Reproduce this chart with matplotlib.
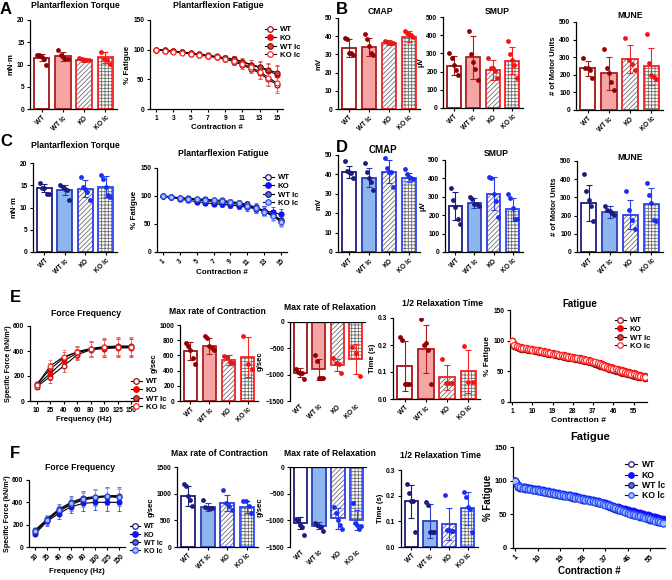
import numpy as np
import matplotlib
matplotlib.use("Agg")
import matplotlib.pyplot as plt
from matplotlib.lines import Line2D

W, H = 672, 580

plt.rcParams["font.family"] = ["Liberation Sans", "DejaVu Sans"]
plt.rcParams["font.weight"] = "bold"
plt.rcParams["axes.labelweight"] = "bold"
plt.rcParams["hatch.linewidth"] = 0.6

GROUPS = ["WT", "WT lc", "KO", "KO lc"]
LINE_LABELS = ["WT", "KO", "WT lc", "KO lc"]
CONTRACTIONS_15 = list(range(1, 16))
FREQ_HZ = [10, 25, 40, 60, 80, 100, 125, 150]

# ── A: plantarflexion (red) ──────────────────────────────────────────────────
A_TQ_MEAN = [11.5, 11.8, 11.0, 11.6]
A_TQ_SD = [0.8, 1.0, 0.4, 1.2]
A_TQ_PTS = [[12.2, 12.2, 11.6, 11.2, 9.8], [13.3, 12.2, 11.6, 11.2, 11.2],
            [11.4, 11.2, 11.0, 10.9, 11.1], [12.9, 11.3, 11.0, 10.2]]

A_FAT_WT = [100, 98.5, 97, 95.5, 93.5, 91.5, 89.5, 87.5, 84.5, 80, 74, 68, 60, 50, 41]
A_FAT_KO = [100, 98.8, 97.2, 95.8, 94, 92, 90, 88, 86, 83.5, 79, 74, 70, 64, 58]
A_FAT_WTLC = [100, 99, 97.5, 96, 94, 92.5, 90.5, 88.5, 86.5, 84, 80, 75, 71, 66, 61]
A_FAT_KOLC = [100, 98.5, 96.8, 95, 93, 91, 89, 87, 84, 81, 76, 70, 63, 53, 44]
A_FAT_SD = [0, 1, 1, 1.5, 1.5, 2, 2, 3, 4, 5, 6, 8, 10, 12, 14]

# ── B: electrophysiology (red) ───────────────────────────────────────────────
B_CMAP_MEAN = [33.3, 34.2, 36.5, 39.6]
B_CMAP_SD = [5.0, 5.0, 1.5, 3.0]
B_CMAP_PTS = [[39, 38.4, 31, 30.5, 29.6], [41, 38.4, 34.7, 30.5, 29.6],
              [37.5, 36.9, 36.5, 36, 36.2], [42.7, 42, 41, 40.5, 39.6]]

B_SMUP_MEAN = [232, 278, 211, 260]
B_SMUP_SD = [52, 116, 55, 75]
B_SMUP_PTS = [[302, 275, 234, 209, 181], [425, 299, 251, 214, 152],
              [275, 222, 218, 205, 165], [366, 298, 266, 236, 165]]

B_MUNE_MEAN = [236, 208, 292, 249]
B_MUNE_SD = [40, 95, 80, 105]
B_MUNE_PTS = [[298, 240, 236, 226, 179], [345, 238, 211, 160, 113],
              [409, 283, 260, 230], [430, 268, 198, 185, 174]]

# ── C: plantarflexion (blue) ─────────────────────────────────────────────────
C_TQ_MEAN = [14.4, 13.9, 14.2, 14.7]
C_TQ_SD = [0.9, 1.2, 1.9, 2.4]
C_TQ_PTS = [[15.5, 14.4, 14.4, 13.1, 13.1], [15.0, 14.6, 14.2, 14.0, 11.6],
            [16.9, 14.6, 14.2, 13.5, 11.6], [17.2, 16.5, 14.6, 12.7, 12.4]]

C_FAT_WT = [100, 98.5, 97, 96, 95, 94, 93, 92, 90, 88, 85, 80, 74, 66, 56]
C_FAT_KO = [100, 97.5, 94.5, 92, 90, 88, 86, 85, 84, 82, 80, 77, 74, 71, 67]
C_FAT_WTLC = [100, 98, 96, 94.5, 93, 91.5, 90, 88.5, 87, 85, 82, 78, 73, 66, 58]
C_FAT_KOLC = [100, 98, 96.5, 95, 94, 93, 92, 91, 89, 87, 83, 78, 72, 64, 54]
C_FAT_SD = [0, 1, 2, 3, 3, 3, 4, 4, 5, 5, 6, 7, 8, 9, 10]

# ── D: electrophysiology (blue) ──────────────────────────────────────────────
D_CMAP_MEAN = [41.4, 38.4, 41.4, 38.4]
D_CMAP_SD = [3.0, 5.0, 6.0, 2.5]
D_CMAP_PTS = [[46.9, 41.7, 41.4, 40.9, 38.3], [45.7, 41, 38.3, 35.9, 32.2],
              [48.3, 43.1, 41.4, 41, 33.6], [42.8, 40, 38.8, 38, 37.6]]

D_SMUP_MEAN = [250, 265, 317, 232]
D_SMUP_SD = [78, 28, 90, 62]
D_SMUP_PTS = [[350, 281, 245, 177, 153], [301, 290, 259, 259, 250],
              [405, 400, 314, 277, 190], [314, 296, 237, 181, 181]]

D_MUNE_MEAN = [268, 220, 206, 261]
D_MUNE_SD = [100, 32, 80, 90]
D_MUNE_PTS = [[429, 336, 286, 255, 172], [255, 232, 223, 214, 205],
              [336, 232, 177, 126], [378, 314, 268, 177, 172]]

# ── E: isolated muscle (red) ─────────────────────────────────────────────────
E_FF_WT = [115, 195, 280, 370, 410, 420, 425, 425]
E_FF_KO = [125, 220, 320, 385, 415, 425, 430, 430]
E_FF_WTLC = [135, 255, 345, 395, 420, 435, 440, 440]
E_FF_KOLC = [130, 280, 355, 390, 415, 430, 435, 435]
E_FF_SD = [20, 50, 50, 45, 60, 70, 70, 70]

E_CON_MEAN = [658, 724, 539, 583]
E_CON_SD = [114, 109, 66, 263]
E_CON_PTS = [[759, 724, 671, 570, 482], [855, 833, 728, 702, 671],
             [596, 583, 509, 496], [855, 482, 421]]

E_REL_MEAN = [-960, -900, -815, -700]
E_REL_SD = [80, 200, 110, 280]
E_REL_PTS = [[-890, -940, -960, -970, -1090], [-620, -740, -1060, -1060, -1065],
             [-680, -780, -800, -960], [-480, -580, -1020]]

E_HALF_MEAN = [0.121, 0.186, 0.080, 0.102]
E_HALF_SD = [0.093, 0.088, 0.045, 0.078]
E_HALF_PTS = [[0.228, 0.220, 0.055, 0.055, 0.057], [0.296, 0.201, 0.207, 0.183, 0.055],
              [0.149, 0.060, 0.060, 0.060], [0.195, 0.063, 0.063]]

E_FAT_WT = [100, 93, 90, 89, 88, 87.5, 87, 86, 85.5, 85,
            84, 83.5, 83, 82, 81.5, 80.5, 80, 79, 78.5, 77.5,
            77, 76, 75.5, 75, 74, 73.5, 73, 72, 71.5, 71,
            70, 69.5, 68.5, 68, 67, 66, 65, 64, 62.5, 61,
            59.5, 58, 57, 55.5, 54.5, 53, 52, 51, 50, 49,
            48, 47, 46, 45, 44, 43, 42, 41, 40, 39]
E_FAT_KO = [100, 94, 91, 90, 89, 88.5, 88, 87, 86.5, 86,
            85, 84.5, 84, 83, 82.5, 81.5, 81, 80, 79.5, 78.5,
            78, 77, 76.5, 76, 75, 74.5, 74, 73, 72.5, 72,
            71, 70.5, 70, 69, 68, 67, 66, 65, 64, 63,
            61.5, 60, 59, 57.5, 56.5, 55.5, 54.5, 53.5, 52.5, 51.5,
            50.5, 49.5, 48.5, 47.5, 46.5, 45.5, 44.5, 43.5, 42.5, 42]
E_FAT_WTLC = [100, 92, 89, 88, 87, 86.5, 86, 85, 84.5, 84,
              83, 82.5, 82, 81, 80.5, 79.5, 79, 78, 77.5, 76.5,
              76, 75, 74.5, 74, 73, 72.5, 72, 71, 70.5, 70,
              69, 68.5, 67.5, 67, 66, 65, 64, 62.5, 61, 59.5,
              58, 56.5, 55, 54, 53, 52, 51, 50, 49, 48,
              47, 46, 45, 44, 43, 42, 41, 40.5, 40, 39.5]
E_FAT_KOLC = [100, 93, 90.5, 89.5, 88.5, 88, 87.5, 86.5, 86, 85.5,
              84.5, 84, 83.5, 82.5, 82, 81, 80.5, 79.5, 79, 78,
              77.5, 76.5, 76, 75.5, 74.5, 74, 73.5, 72.5, 72, 71.5,
              70.5, 70, 69, 68.5, 67.5, 66.5, 65.5, 64.5, 63, 61.5,
              60, 58.5, 57.5, 56, 55, 54, 53, 52, 51, 50,
              49, 48, 47, 46, 45, 44, 43, 42, 41, 40]
E_FAT_SD = 4

# ── F: isolated muscle (blue) ────────────────────────────────────────────────
F_FF_WT = [150, 250, 340, 400, 440, 450, 460, 460]
F_FF_KO = [115, 230, 300, 360, 390, 400, 400, 400]
F_FF_WTLC = [130, 240, 320, 380, 420, 440, 450, 445]
F_FF_KOLC = [140, 245, 330, 390, 430, 445, 455, 450]
F_FF_SD = [15, 40, 45, 55, 65, 70, 75, 75]

F_CON_MEAN = [962, 750, 825, 750]
F_CON_SD = [188, 70, 156, 119]
F_CON_PTS = [[1188, 1138, 962, 888, 763], [875, 750, 731, 735, 740],
             [1075, 825, 760, 700], [869, 856, 775, 638]]

F_REL_MEAN = [-1050, -1100, -960, -990]
F_REL_SD = [120, 60, 200, 190]
F_REL_PTS = [[-969, -988, -1081, -1125, -1269], [-1050, -1081, -1112, -1125, -1206],
             [-750, -863, -988, -1081, -1156], [-680, -1050, -1090, -1160, -1100]]

F_HALF_MEAN = [0.178, 0.102, 0.090, 0.151]
F_HALF_SD = [0.065, 0.065, 0.062, 0.065]
F_HALF_PTS = [[0.244, 0.212, 0.181, 0.180, 0.057], [0.176, 0.165, 0.057, 0.057, 0.058],
              [0.202, 0.067, 0.065, 0.063, 0.061], [0.216, 0.194, 0.154, 0.150, 0.058]]

F_FAT_WT = [100, 92, 90, 89.5, 89, 88.5, 88, 87, 86.5, 86,
            85, 84.5, 83.5, 83, 82, 81.5, 80.5, 80, 79, 78.5,
            78, 77.5, 77, 76, 75.5, 75, 74, 73, 72.5, 72,
            71, 70.5, 69.5, 68.5, 67.5, 66.5, 65, 64, 62.5, 61,
            59.5, 58, 57, 55.5, 54, 52.5, 51.5, 50.5, 49.5, 48.5,
            47.5, 46.5, 45.5, 44.5, 43, 42, 41, 40, 39, 38]
F_FAT_KO = [100, 93, 91, 90.5, 90, 89.5, 89, 88, 87.5, 87,
            86, 85.5, 84.5, 84, 83, 82.5, 81.5, 81, 80, 79.5,
            79, 78.5, 78, 77, 76.5, 76, 75, 74, 73.5, 73,
            72, 71.5, 70.5, 69.5, 68.5, 67.5, 66.5, 65.5, 64, 63,
            61.5, 60.5, 59.5, 58.5, 57.5, 56.5, 55.5, 54.5, 53.5, 52.5,
            51.5, 50.5, 49.5, 48.5, 47.5, 46.5, 45.5, 44.5, 43.5, 42.5]
F_FAT_WTLC = [100, 91, 89, 88.5, 88, 87.5, 87, 86, 85.5, 85,
              84, 83.5, 82.5, 82, 81, 80.5, 79.5, 79, 78, 77.5,
              77, 76.5, 76, 75, 74.5, 74, 73, 72, 71.5, 71,
              70, 69.5, 68.5, 67.5, 66.5, 65.5, 64, 63, 61.5, 60,
              58.5, 57, 56, 54.5, 53, 51.5, 50.5, 49.5, 48.5, 47.5,
              46.5, 45.5, 44.5, 43.5, 42, 41, 40, 39, 38, 37]
F_FAT_KOLC = [100, 92, 90, 89, 88.5, 88, 87.5, 86.5, 86, 85.5,
              84.5, 84, 83, 82.5, 81.5, 81, 80, 79.5, 78.5, 78,
              77.5, 77, 76.5, 75.5, 75, 74.5, 73.5, 72.5, 72, 71.5,
              70.5, 70, 69, 68, 67, 66, 64.5, 63.5, 62, 60.5,
              59, 57.5, 56.5, 55, 53.5, 52, 51, 50, 49, 48,
              47, 46, 45, 44, 42.5, 41.5, 40.5, 39.5, 38.5, 37.5]
F_FAT_SD = 4

# ── Styles ───────────────────────────────────────────────────────────────────
HATCH_GRAY = "#6e6e6e"
RED_BARS = [
    dict(face="white", edge="#A31515", dot="#8B0000", hatch=None),
    dict(face="#F6A5A5", edge="#B01E1E", dot="#9B0000", hatch=None),
    dict(face="white", edge="#E8262A", dot="#E01B1B", hatch="///////"),
    dict(face="white", edge="#FF1F1F", dot="#FF1010", hatch="+++++"),
]
BLUE_BARS = [
    dict(face="white", edge="#1C1C7A", dot="#1C1C80", hatch=None),
    dict(face="#8DB6EF", edge="#2A3EC0", dot="#1C1C80", hatch=None),
    dict(face="white", edge="#2F3BE8", dot="#1A2FF0", hatch="///////"),
    dict(face="white", edge="#2A45FF", dot="#1A2FF0", hatch="+++++"),
]
RED_LINE = [
    dict(mfc="white", mec="#A01010", err="#D04040"),
    dict(mfc="#FF0000", mec="#FF0000", err="#FF3030"),
    dict(mfc="#C84848", mec="#8B1010", err="#C05050"),
    dict(mfc="white", mec="#FF2A2A", err="#FF7070"),
]
BLUE_LINE = [
    dict(mfc="white", mec="#1A1A80", err="#5A5AB0"),
    dict(mfc="#1010FF", mec="#1010FF", err="#3030FF"),
    dict(mfc="#5070D0", mec="#1A1A80", err="#6080D0"),
    dict(mfc="#A8C0FF", mec="#2A50FF", err="#90A8FF"),
]

fig = plt.figure(figsize=(W / 100, H / 100), dpi=100)


def ax_at(x0, y0, x1, y1):
    """Axes from pixel box (left, top, right, bottom), origin at top-left."""
    return fig.add_axes([x0 / W, 1 - y1 / H, (x1 - x0) / W, (y1 - y0) / H])


def style(ax):
    for s in ["top", "right"]:
        ax.spines[s].set_visible(False)
    for s in ["left", "bottom"]:
        ax.spines[s].set_linewidth(0.9)
    ax.tick_params(length=2.5, width=0.8, labelsize=4.8, pad=1.5)


def title_at(x, y, text, size=6.2):
    fig.text(x / W, 1 - y / H, text, ha="center", va="center",
             fontsize=size, fontweight="bold")


def letter_at(x, y, text):
    fig.text(x / W, 1 - y / H, text, ha="left", va="center",
             fontsize=12, fontweight="bold")


def bar_panel(ax, means, sds, pts, theme, ylim, yticks, ylabel, negative=False):
    style(ax)
    x = np.arange(len(GROUPS))
    for i in range(len(GROUPS)):
        st = theme[i]
        if st["hatch"]:
            ax.bar(x[i], means[i], width=0.72, color="white", edgecolor=HATCH_GRAY,
                   hatch=st["hatch"], linewidth=0, zorder=1)
            ax.bar(x[i], means[i], width=0.72, fill=False, edgecolor=st["edge"],
                   linewidth=1.3, zorder=2)
        else:
            ax.bar(x[i], means[i], width=0.72, color=st["face"], edgecolor=st["edge"],
                   linewidth=1.3, zorder=2)
        ax.errorbar(x[i], means[i], yerr=sds[i], color=st["edge"], capsize=2.2,
                    elinewidth=0.8, capthick=0.8, zorder=3)
        p = pts[i]
        jit = np.linspace(-0.22, 0.22, len(p))
        ax.scatter(x[i] + jit, p, s=12, color=st["dot"], linewidths=0, zorder=4)
    ax.set_xlim(-0.55, 3.55)
    ax.set_ylim(*ylim)
    ax.set_yticks(yticks)
    ax.set_xticks(x)
    ax.set_xticklabels(GROUPS, rotation=45, ha="right", rotation_mode="anchor")
    ax.set_ylabel(ylabel, fontsize=5.6, labelpad=1.5)
    if negative:
        ax.spines["bottom"].set_visible(False)
        ax.axhline(0, color="black", lw=0.9, zorder=5)
        ax.tick_params(axis="x", length=0)


def line_panel(ax, xs, series, sd, theme, ms=3.6, lw=0.8, cap=1.5):
    style(ax)
    handles = []
    for i, ys in enumerate(series):
        st = theme[i]
        ax.errorbar(xs, ys, yerr=sd, fmt="none", ecolor=st["err"], elinewidth=0.7,
                    capsize=cap, capthick=0.7, alpha=0.8, zorder=2)
        ax.plot(xs, ys, color="black", lw=lw, zorder=3)
        ax.plot(xs, ys, ls="none", marker="o", ms=ms, mfc=st["mfc"], mec=st["mec"],
                mew=0.9, zorder=4)
        handles.append(Line2D([], [], color="black", lw=0.8, marker="o", ms=4,
                              mfc=st["mfc"], mec=st["mec"], mew=0.9))
    return handles


def legend_at(ax, handles, x, y, size=5.6):
    ax.legend(handles, LINE_LABELS, loc="upper left", bbox_to_anchor=(x / W, 1 - y / H),
              bbox_transform=fig.transFigure, frameon=False, fontsize=size,
              handlelength=1.4, handletextpad=0.5, labelspacing=0.15, borderpad=0)


# ── Row A / B ────────────────────────────────────────────────────────────────
letter_at(0, 9, "A")
letter_at(336, 9, "B")

ax = ax_at(30, 20, 117, 109)
bar_panel(ax, A_TQ_MEAN, A_TQ_SD, A_TQ_PTS, RED_BARS, (0, 20), [0, 5, 10, 15, 20], "mN·m")
title_at(75, 5, "Plantarflexion Torque")

ax = ax_at(150, 20, 283, 109)
h = line_panel(ax, CONTRACTIONS_15, [A_FAT_WT, A_FAT_KO, A_FAT_WTLC, A_FAT_KOLC],
               A_FAT_SD, RED_LINE)
ax.set_xlim(0.3, 15.7)
ax.set_ylim(0, 150)
ax.set_yticks([0, 50, 100, 150])
ax.set_xticks(CONTRACTIONS_15[::2])
ax.set_ylabel("% Fatigue", fontsize=5.8, labelpad=1.5)
ax.set_xlabel("Contraction #", fontsize=5.8, labelpad=2)
legend_at(ax, h, 261, 22)
title_at(218, 5, "Plantarflexion Fatigue")

ax = ax_at(338, 18, 420, 109)
bar_panel(ax, B_CMAP_MEAN, B_CMAP_SD, B_CMAP_PTS, RED_BARS, (0, 50), range(0, 51, 10), "mV")
title_at(380, 12, "CMAP")

ax = ax_at(443, 17, 523, 108)
bar_panel(ax, B_SMUP_MEAN, B_SMUP_SD, B_SMUP_PTS, RED_BARS, (0, 500), range(0, 501, 100), "μV")
title_at(497, 12, "SMUP")

ax = ax_at(576, 22, 663, 110)
bar_panel(ax, B_MUNE_MEAN, B_MUNE_SD, B_MUNE_PTS, RED_BARS, (0, 500), range(0, 501, 100),
          "# of Motor Units")
title_at(630, 15, "MUNE")

# ── Row C / D ────────────────────────────────────────────────────────────────
letter_at(0, 142, "C")
letter_at(336, 147, "D")

ax = ax_at(33, 163, 117, 252)
bar_panel(ax, C_TQ_MEAN, C_TQ_SD, C_TQ_PTS, BLUE_BARS, (0, 20), [0, 5, 10, 15, 20], "mN·m")
title_at(75, 146, "Plantarflexion Torque")

ax = ax_at(157, 168, 287, 252)
h = line_panel(ax, CONTRACTIONS_15, [C_FAT_WT, C_FAT_KO, C_FAT_WTLC, C_FAT_KOLC],
               C_FAT_SD, BLUE_LINE)
ax.set_xlim(0.3, 15.7)
ax.set_ylim(0, 150)
ax.set_yticks([0, 50, 100, 150])
ax.set_xticks(CONTRACTIONS_15[::2])
ax.tick_params(axis="x", labelrotation=45)
ax.set_ylabel("% Fatigue", fontsize=5.8, labelpad=1.5)
ax.set_xlabel("Contraction #", fontsize=5.8, labelpad=1)
legend_at(ax, h, 259, 170)
title_at(223, 153, "Plantarflexion Fatigue")

ax = ax_at(338, 155, 420, 252)
bar_panel(ax, D_CMAP_MEAN, D_CMAP_SD, D_CMAP_PTS, BLUE_BARS, (0, 50), range(0, 51, 10), "mV")
title_at(383, 150, "CMAP", size=7)

ax = ax_at(445, 160, 523, 252)
bar_panel(ax, D_SMUP_MEAN, D_SMUP_SD, D_SMUP_PTS, BLUE_BARS, (0, 500), range(0, 501, 100), "μV")
title_at(496, 153, "SMUP")

ax = ax_at(577, 161, 663, 252)
bar_panel(ax, D_MUNE_MEAN, D_MUNE_SD, D_MUNE_PTS, BLUE_BARS, (0, 500), range(0, 501, 100),
          "# of Motor Units")
title_at(630, 157, "MUNE")

# ── Row E ────────────────────────────────────────────────────────────────────
letter_at(10, 298, "E")

ax = ax_at(30, 326, 138, 401)
h = line_panel(ax, np.arange(len(FREQ_HZ)), [E_FF_WT, E_FF_KO, E_FF_WTLC, E_FF_KOLC],
               E_FF_SD, RED_LINE, ms=3.4)
ax.set_xlim(-0.5, 7.5)
ax.set_ylim(0, 600)
ax.set_yticks([0, 200, 400, 600])
ax.set_xticks(np.arange(len(FREQ_HZ)))
ax.set_xticklabels(FREQ_HZ)
ax.set_ylabel("Specific Force (kN/m²)", fontsize=5.2, labelpad=1)
ax.set_xlabel("Frequency (Hz)", fontsize=5.6, labelpad=2)
legend_at(ax, h, 127, 374)
title_at(86, 313, "Force Frequency")

ax = ax_at(180, 325, 258, 401)
bar_panel(ax, E_CON_MEAN, E_CON_SD, E_CON_PTS, RED_BARS, (0, 1000), range(0, 1001, 200), "g/sec")
title_at(217, 311, "Max rate of Contraction")

ax = ax_at(290, 322, 366, 401)
bar_panel(ax, E_REL_MEAN, E_REL_SD, E_REL_PTS, RED_BARS, (-1500, 0), range(-1500, 1, 500),
          "g/sec", negative=True)
title_at(330, 308, "Max rate of Relaxation")

ax = ax_at(393, 318, 480, 399)
bar_panel(ax, E_HALF_MEAN, E_HALF_SD, E_HALF_PTS, RED_BARS, (0, 0.3), [0.0, 0.1, 0.2, 0.3],
          "Time (s)")
ax.set_yticklabels(["0.0", "0.1", "0.2", "0.3"])
title_at(442, 304, "1/2 Relaxation Time")

ax = ax_at(510, 310, 647, 402)
n60 = np.arange(1, len(E_FAT_WT) + 1)
h = line_panel(ax, n60, [E_FAT_WT, E_FAT_KO, E_FAT_WTLC, E_FAT_KOLC], E_FAT_SD,
               RED_LINE, ms=4.4, cap=0)
ax.set_xlim(0, 61)
ax.set_ylim(0, 150)
ax.set_yticks([0, 50, 100, 150])
ax.set_xticks([1, 10, 19, 28, 37, 46, 55])
ax.set_ylabel("% Fatigue", fontsize=6, labelpad=1.5)
ax.set_xlabel("Contraction #", fontsize=6, labelpad=2)
legend_at(ax, h, 611, 313)
title_at(580, 304, "Fatigue", size=7)

# ── Row F ────────────────────────────────────────────────────────────────────
letter_at(10, 453, "F")

ax = ax_at(29, 480, 125, 547)
h = line_panel(ax, np.arange(len(FREQ_HZ)), [F_FF_WT, F_FF_KO, F_FF_WTLC, F_FF_KOLC],
               F_FF_SD, BLUE_LINE, ms=3.4)
ax.set_xlim(-0.5, 7.5)
ax.set_ylim(0, 600)
ax.set_yticks([0, 200, 400, 600])
ax.set_xticks(np.arange(len(FREQ_HZ)))
ax.set_xticklabels(FREQ_HZ, rotation=45)
ax.set_ylabel("Specific Force (kN/m²)", fontsize=5.2, labelpad=1)
ax.set_xlabel("Frequency (Hz)", fontsize=5.6, labelpad=2)
legend_at(ax, h, 127, 520, size=5)
title_at(80, 468, "Force Frequency")

ax = ax_at(177, 467, 258, 547)
bar_panel(ax, F_CON_MEAN, F_CON_SD, F_CON_PTS, BLUE_BARS, (0, 1500), range(0, 1501, 500), "g/sec")
title_at(219, 453, "Max rate of Contraction")

ax = ax_at(290, 467, 367, 547)
bar_panel(ax, F_REL_MEAN, F_REL_SD, F_REL_PTS, BLUE_BARS, (-1500, 0), range(-1500, 1, 500),
          "g/sec", negative=True)
title_at(330, 453, "Max rate of Relaxation")

ax = ax_at(401, 470, 478, 547)
bar_panel(ax, F_HALF_MEAN, F_HALF_SD, F_HALF_PTS, BLUE_BARS, (0, 0.3), [0.0, 0.1, 0.2, 0.3],
          "Time (s)")
ax.set_yticklabels(["0.0", "0.1", "0.2", "0.3"])
title_at(440, 456, "1/2 Relaxation Time")

ax = ax_at(513, 447, 665, 548)
h = line_panel(ax, n60, [F_FAT_WT, F_FAT_KO, F_FAT_WTLC, F_FAT_KOLC], F_FAT_SD,
               BLUE_LINE, ms=4.8, cap=0)
ax.set_xlim(0, 61)
ax.set_ylim(0, 150)
ax.set_yticks([0, 50, 100, 150])
ax.set_xticks([1, 10, 19, 28, 37, 46, 55])
ax.tick_params(axis="x", labelrotation=45, labelsize=5.5)
ax.tick_params(axis="y", labelsize=5.5)
ax.set_ylabel("% Fatigue", fontsize=7, labelpad=1.5)
ax.set_xlabel("Contraction #", fontsize=7, labelpad=1)
legend_at(ax, h, 621, 456, size=6.2)
title_at(590, 437, "Fatigue", size=8)

fig.savefig("out.png", dpi=100)
